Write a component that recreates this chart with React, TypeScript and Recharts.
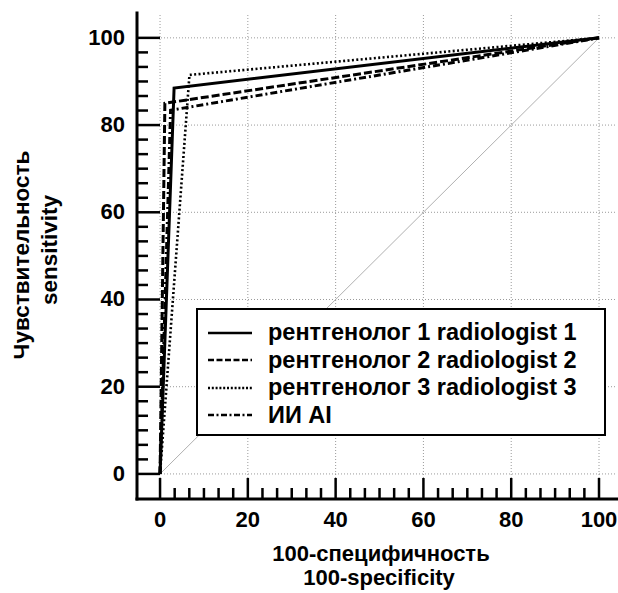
import React from "react";
import { LineChart, Line, XAxis, YAxis, Legend, Label, ReferenceLine } from "recharts";

const FONT = "'Liberation Sans', Arial, Helvetica, sans-serif";

// axis ranges (axes are offset a little outside the 0..100 data box)
const xDomain = [-5.25, 104.1];
const yDomain = [-5.75, 105.7];
const majorTicks = [0, 20, 40, 60, 80, 100];
const minorPerMajor = 6;

const allTicks: number[] = [];
for (let i = 0; i < majorTicks.length - 1; i++) {
  const step = (majorTicks[i + 1] - majorTicks[i]) / minorPerMajor;
  for (let k = 0; k < minorPerMajor; k++) allTicks.push(majorTicks[i] + k * step);
}
allTicks.push(majorTicks[majorTicks.length - 1]);

// ROC points (100-specificity, sensitivity)
const radiologist1 = [
  { x: 0, y: 0 },
  { x: 3.2, y: 88.5 },
  { x: 100, y: 100 },
];
const radiologist2 = [
  { x: 0, y: 0 },
  { x: 1.1, y: 85.0 },
  { x: 100, y: 100 },
];
const radiologist3 = [
  { x: 0, y: 0 },
  { x: 6.7, y: 91.5 },
  { x: 100, y: 100 },
];
const aiModel = [
  { x: 0, y: 0 },
  { x: 2.4, y: 83.4 },
  { x: 100, y: 100 },
];
const chanceLine = [
  { x: 0, y: 0 },
  { x: 100, y: 100 },
];

const seriesNames = [
  "рентгенолог 1 radiologist 1",
  "рентгенолог 2 radiologist 2",
  "рентгенолог 3 radiologist 3",
  "ИИ AI",
];
const seriesData = [radiologist1, radiologist2, radiologist3, aiModel];
const seriesDash = ["", "8 3", "2 2.4", "7 3 2 3"];
const legendDash = ["", "6 2.5", "2 1.8", "6 2.5 2 2.5"];

const isMajor = (v: number) => Math.abs(v - Math.round(v / 20) * 20) < 1e-6;

function XTick(props: any) {
  const { x, y, payload } = props;
  const major = isMajor(payload.value);
  return (
    <g>
      <line x1={x} x2={x} y1={y} y2={y - (major ? 21 : 11)} stroke="#000" strokeWidth={2.5} />
      {major && (
        <text x={x} y={y + 28} textAnchor="middle" fontFamily={FONT} fontWeight="bold" fontSize={22} fill="#000">
          {Math.round(payload.value)}
        </text>
      )}
    </g>
  );
}

function YTick(props: any) {
  const { x, y, payload } = props;
  const major = isMajor(payload.value);
  return (
    <g>
      <line x1={x} x2={x + (major ? 23 : 11)} y1={y} y2={y} stroke="#000" strokeWidth={2.5} />
      {major && (
        <text x={x - 12} y={y + 7} textAnchor="end" fontFamily={FONT} fontWeight="bold" fontSize={22} fill="#000">
          {Math.round(payload.value)}
        </text>
      )}
    </g>
  );
}

const XTitle = () => (
  <g fontFamily={FONT} fontWeight="bold" fontSize={22} fill="#000">
    <text x={381} y={561} textAnchor="middle">100-специфичность</text>
    <text x={379} y={585} textAnchor="middle">100-specificity</text>
  </g>
);

const YTitle = () => (
  <g fontFamily={FONT} fontWeight="bold" fontSize={22.5} fill="#000">
    <text x={29} y={255} textAnchor="middle" transform="rotate(-90, 29, 255)">Чувствительность</text>
    <text x={57} y={250} textAnchor="middle" transform="rotate(-90, 57, 250)">sensitivity</text>
  </g>
);

const renderLegend = () => (
  <div
    style={{
      boxSizing: "border-box",
      width: 410,
      height: 128,
      border: "2px solid #000",
      background: "#fff",
      paddingTop: 9,
      paddingLeft: 10,
      fontFamily: FONT,
      fontWeight: "bold",
      fontSize: 23.5,
      color: "#000",
    }}
  >
    {seriesNames.map((name, i) => (
      <div key={name} style={{ display: "flex", alignItems: "center", height: 27.5 }}>
        <svg width={44} height={10} style={{ marginRight: 16 }}>
          <line x1={0} x2={44} y1={5} y2={5} stroke="#000" strokeWidth={2.5} strokeDasharray={legendDash[i] || undefined} />
        </svg>
        <span style={{ whiteSpace: "nowrap", lineHeight: "27.5px" }}>{name}</span>
      </div>
    ))}
  </div>
);

export default function App() {
  return (
    <div style={{ position: "absolute", left: 0, top: 0, background: "#fff" }}>
      <LineChart width={618} height={593} margin={{ top: 13, right: 1, bottom: 0, left: 0 }}>
        <XAxis
          type="number"
          dataKey="x"
          domain={xDomain}
          ticks={allTicks}
          interval={0}
          allowDataOverflow
          height={94}
          tickSize={0}
          tickMargin={0}
          tickLine={false}
          tick={<XTick />}
          axisLine={{ stroke: "#000", strokeWidth: 3, strokeLinecap: "square" }}
        >
          <Label content={<XTitle />} />
        </XAxis>
        <YAxis
          type="number"
          dataKey="y"
          domain={yDomain}
          ticks={allTicks}
          interval={0}
          allowDataOverflow
          width={137}
          tickSize={0}
          tickMargin={0}
          tickLine={false}
          tick={<YTick />}
          axisLine={{ stroke: "#000", strokeWidth: 3, strokeLinecap: "square" }}
        >
          <Label content={<YTitle />} />
        </YAxis>
        {majorTicks.map((v) => (
          <ReferenceLine key={`gx-${v}`} x={v} stroke="#9a9a9a" strokeWidth={1} strokeDasharray="1 2" />
        ))}
        {majorTicks.map((v) => (
          <ReferenceLine key={`gy-${v}`} y={v} stroke="#9a9a9a" strokeWidth={1} strokeDasharray="1 2" />
        ))}
        <Line
          data={chanceLine}
          dataKey="y"
          type="linear"
          stroke="#b0b0b0"
          strokeWidth={1}
          dot={false}
          legendType="none"
          isAnimationActive={false}
        />
        {seriesData.map((d, i) => (
          <Line
            key={seriesNames[i]}
            name={seriesNames[i]}
            data={d}
            dataKey="y"
            type="linear"
            stroke="#000"
            strokeWidth={i === 2 ? 2.6 : 3}
            strokeDasharray={seriesDash[i] || undefined}
            dot={false}
            isAnimationActive={false}
          />
        ))}
        <Legend
          layout="horizontal"
          verticalAlign="middle"
          align="center"
          wrapperStyle={{ left: 196, top: 308, width: 410, height: 128 }}
          content={renderLegend}
        />
      </LineChart>
    </div>
  );
}
